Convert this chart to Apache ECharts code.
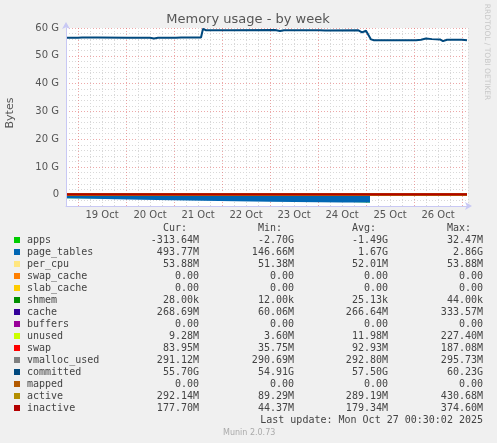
<!DOCTYPE html>
<html>
<head>
<meta charset="utf-8">
<script src="https://cdn.jsdelivr.net/npm/echarts@6/dist/echarts.min.js"></script>
<style>html,body{margin:0;padding:0;background:#f0f0f0;}#c{width:497px;height:443px;}</style>
</head>
<body>
<div id="c"></div>
<script>
// x values: hours since 19 Oct 00:00; y values in G
const dayLabels = ['19 Oct','20 Oct','21 Oct','22 Oct','23 Oct','24 Oct','25 Oct','26 Oct'];
const yTickLabels = ['0','10 G','20 G','30 G','40 G','50 G','60 G'];

const bandHours = [-5.5, 32, 32, 62, 62, 96, 96, 132.5, 132.5, 146, 146, 194.5];
const appsVals = [-1.2, -1.2, -1.75, -1.75, -2.1, -2.1, -2.45, -2.45, -2.7, -2.7, -0.31, -0.31];
const pageTablesVals = [1.37, 1.37, 1.92, 1.92, 2.27, 2.27, 2.62, 2.62, 2.86, 2.86, 0.49, 0.49];
const perCpuVals = [0.052,0.052,0.052,0.052,0.052,0.052,0.052,0.052,0.052,0.052,0.054,0.054];
const swapCacheVals = [0,0,0,0,0,0,0,0,0,0,0,0];
const slabCacheVals = [0,0,0,0,0,0,0,0,0,0,0,0];
const shmemVals = [0,0,0,0,0,0,0,0,0,0,0,0];
const cacheVals = [0.27,0.27,0.27,0.27,0.27,0.27,0.27,0.27,0.27,0.27,0.27,0.27];
const buffersVals = [0,0,0,0,0,0,0,0,0,0,0,0];
const unusedVals = [0.01,0.01,0.01,0.01,0.01,0.01,0.01,0.01,0.01,0.01,0.01,0.01];
const swapVals = [0.09,0.09,0.09,0.09,0.09,0.09,0.09,0.09,0.09,0.09,0.08,0.08];
const vmallocVals = [0.29,0.29,0.29,0.29,0.29,0.29,0.29,0.29,0.29,0.29,0.29,0.29];
const mappedVals = [0,0,0,0,0,0,0,0,0,0,0,0];
const activeVals = [0.29,0.29,0.29,0.29,0.29,0.29,0.29,0.29,0.29,0.29,0.29,0.29];
const inactiveVals = [0.18,0.18,0.18,0.18,0.18,0.18,0.18,0.18,0.18,0.18,0.18,0.18];

const commHours = [-5.5,0,1,2,8,9,10,25,26,27,36,38,40,49,50,51.5,61.5,62.5,64,74,75,76.5,98.5,99.5,101,103,121,122,123.5,140,142,144,145,146.5,148,158.5,159.5,161,169,170,171.5,174,177,181,182.5,184.5,192,194.5];
const commVals  = [56.5,56.5,57.2,56.6,56.6,56.3,56.6,56.5,57.0,56.5,56.5,56.2,56.5,56.5,57.0,56.6,56.6,59.7,59.2,59.2,59.7,59.2,59.3,59.5,58.9,59.2,59.2,59.5,59.1,59.2,58.4,59.0,59.2,55.9,55.6,55.6,55.4,55.6,55.6,56.3,55.8,56.2,56.0,55.9,55.3,55.8,55.8,55.6];

const legendNames = ['apps','page_tables','per_cpu','swap_cache','slab_cache','shmem','cache','buffers','unused','swap','vmalloc_used','committed','mapped','active','inactive'];
const legendColors = ['#00CC00','#0066B3','#FFE680','#FF8000','#FFCC00','#008F00','#330099','#990099','#CCFF00','#FF0000','#808080','#00487D','#B35A00','#B38F00','#B30000'];
const curVals = ['-313.64M','493.77M','53.88M','0.00','0.00','28.00k','268.69M','0.00','9.28M','83.95M','291.12M','55.70G','0.00','292.14M','177.70M'];
const minVals = ['-2.70G','146.66M','51.38M','0.00','0.00','12.00k','60.06M','0.00','3.60M','35.75M','290.69M','54.91G','0.00','89.29M','44.37M'];
const avgVals = ['-1.49G','1.67G','52.01M','0.00','0.00','25.13k','266.64M','0.00','11.98M','92.93M','292.80M','57.50G','0.00','289.19M','179.34M'];
const maxVals = ['32.47M','2.86G','53.88M','0.00','0.00','44.00k','333.57M','0.00','227.40M','187.08M','295.73M','60.23G','0.00','430.68M','374.60M'];

// items stored as [value, hour] so that the stacked dimension is the value
function pairs(xs, ys){ return xs.map((x,i)=>[ys[i], x]); }

const stackDefs = [
  ['apps', appsVals, 0], ['page_tables', pageTablesVals, 1], ['per_cpu', perCpuVals, 2],
  ['swap_cache', swapCacheVals, 3], ['slab_cache', slabCacheVals, 4], ['shmem', shmemVals, 5],
  ['cache', cacheVals, 6], ['buffers', buffersVals, 7], ['unused', unusedVals, 8], ['swap', swapVals, 9]
];
const series = stackDefs.map(d => ({
  name: d[0], type: 'line', stack: 'mem', stackStrategy: 'all',
  data: pairs(bandHours, d[1]), encode: { x: 1, y: 0 }, showSymbol: false, symbol: 'none',
  lineStyle: { width: 0 }, areaStyle: { color: legendColors[d[2]], opacity: 1 },
  itemStyle: { color: legendColors[d[2]] }, animation: false, z: 2
}));
const lineDefs = [
  ['vmalloc_used', bandHours, vmallocVals, 10], ['committed', commHours, commVals, 11],
  ['mapped', bandHours, mappedVals, 12], ['active', bandHours, activeVals, 13], ['inactive', bandHours, inactiveVals, 14]
];
lineDefs.forEach(d => series.push({
  name: d[0], type: 'line', data: pairs(d[1], d[2]), encode: { x: 1, y: 0 }, showSymbol: false, symbol: 'none',
  lineStyle: { width: 2, color: legendColors[d[3]] }, itemStyle: { color: legendColors[d[3]] },
  animation: false, z: 3
}));

const mono = '10px "DejaVu Sans Mono"';
const txtColor = '#444';
const graphic = [];
graphic.push({ type: 'text', x: 248, y: 20, style: { text: 'Memory usage - by week', font: '13px "DejaVu Sans"', fill: '#555', align: 'center', verticalAlign: 'middle' } });
graphic.push({ type: 'text', x: 10, y: 113, rotation: Math.PI/2, style: { text: 'Bytes', font: '11px "DejaVu Sans"', fill: '#555', align: 'center', verticalAlign: 'middle' } });
graphic.push({ type: 'text', x: 487, y: 52, rotation: -Math.PI/2, style: { text: 'RRDTOOL / TOBI OETIKER', font: '7.5px "DejaVu Sans"', fill: '#c8c8c8', align: 'center', verticalAlign: 'middle' } });
graphic.push({ type: 'text', x: 163, y: 228, style: { text: 'Cur:', font: mono, fill: txtColor, align: 'left', verticalAlign: 'middle' } });
graphic.push({ type: 'text', x: 258, y: 228, style: { text: 'Min:', font: mono, fill: txtColor, align: 'left', verticalAlign: 'middle' } });
graphic.push({ type: 'text', x: 352, y: 228, style: { text: 'Avg:', font: mono, fill: txtColor, align: 'left', verticalAlign: 'middle' } });
graphic.push({ type: 'text', x: 447, y: 228, style: { text: 'Max:', font: mono, fill: txtColor, align: 'left', verticalAlign: 'middle' } });
legendNames.forEach((n, i) => {
  const y = 240 + i * 12;
  graphic.push({ type: 'rect', shape: { x: 14, y: y - 3, width: 6, height: 6 }, style: { fill: legendColors[i] } });
  graphic.push({ type: 'text', x: 27, y: y, style: { text: n, font: mono, fill: txtColor, align: 'left', verticalAlign: 'middle' } });
  graphic.push({ type: 'text', x: 199, y: y, style: { text: curVals[i], font: mono, fill: txtColor, align: 'right', verticalAlign: 'middle' } });
  graphic.push({ type: 'text', x: 294, y: y, style: { text: minVals[i], font: mono, fill: txtColor, align: 'right', verticalAlign: 'middle' } });
  graphic.push({ type: 'text', x: 388, y: y, style: { text: avgVals[i], font: mono, fill: txtColor, align: 'right', verticalAlign: 'middle' } });
  graphic.push({ type: 'text', x: 483, y: y, style: { text: maxVals[i], font: mono, fill: txtColor, align: 'right', verticalAlign: 'middle' } });
});
graphic.push({ type: 'text', x: 483, y: 420, style: { text: 'Last update: Mon Oct 27 00:30:02 2025', font: mono, fill: txtColor, align: 'right', verticalAlign: 'middle' } });
graphic.push({ type: 'text', x: 223, y: 433, style: { text: 'Munin 2.0.73', font: '8px "DejaVu Sans"', fill: '#aaa', align: 'left', verticalAlign: 'middle' } });

const minor = '#d8d8d8', major = 'rgba(225,110,110,0.6)';
const option = {
  backgroundColor: '#f0f0f0',
  animation: false,
  graphic: graphic,
  grid: { left: 66, top: 28, width: 402, height: 178, show: true, backgroundColor: '#ffffff', borderWidth: 0 },
  xAxis: {
    type: 'value', min: -6, max: 195, interval: 6,
    axisLine: { show: true, onZero: false, lineStyle: { color: '#c8c8f4', width: 1 }, symbol: ['none', 'arrow'], symbolSize: [6, 7], symbolOffset: [0, 4] },
    axisTick: { show: false },
    splitLine: { show: true, lineStyle: { type: [1, 2], width: 1, color: [minor, major, minor, minor] } },
    axisLabel: {
      color: '#555', fontSize: 10, fontFamily: 'DejaVu Sans', margin: 4,
      formatter: v => { const r = ((v % 24) + 24) % 24; if (r === 12) { const k = (v - 12) / 24; return dayLabels[k] || ''; } return ''; }
    }
  },
  yAxis: {
    type: 'value', min: -4, max: 60, interval: 2,
    axisLine: { show: true, onZero: false, lineStyle: { color: '#c8c8f4', width: 1 }, symbol: ['none', 'arrow'], symbolSize: [6, 7], symbolOffset: [0, 6] },
    axisTick: { show: false },
    splitLine: { show: true, lineStyle: { type: [1, 2], width: 1, color: [minor, minor, major, minor, minor] } },
    axisLabel: {
      color: '#555', fontSize: 10, fontFamily: 'DejaVu Sans', margin: 7,
      formatter: v => (v >= 0 && v % 10 === 0) ? yTickLabels[v / 10] : ''
    }
  },
  series: series
};
const chart = echarts.init(document.getElementById('c'), null, { renderer: 'canvas' });
chart.setOption(option);
</script>
</body>
</html>
